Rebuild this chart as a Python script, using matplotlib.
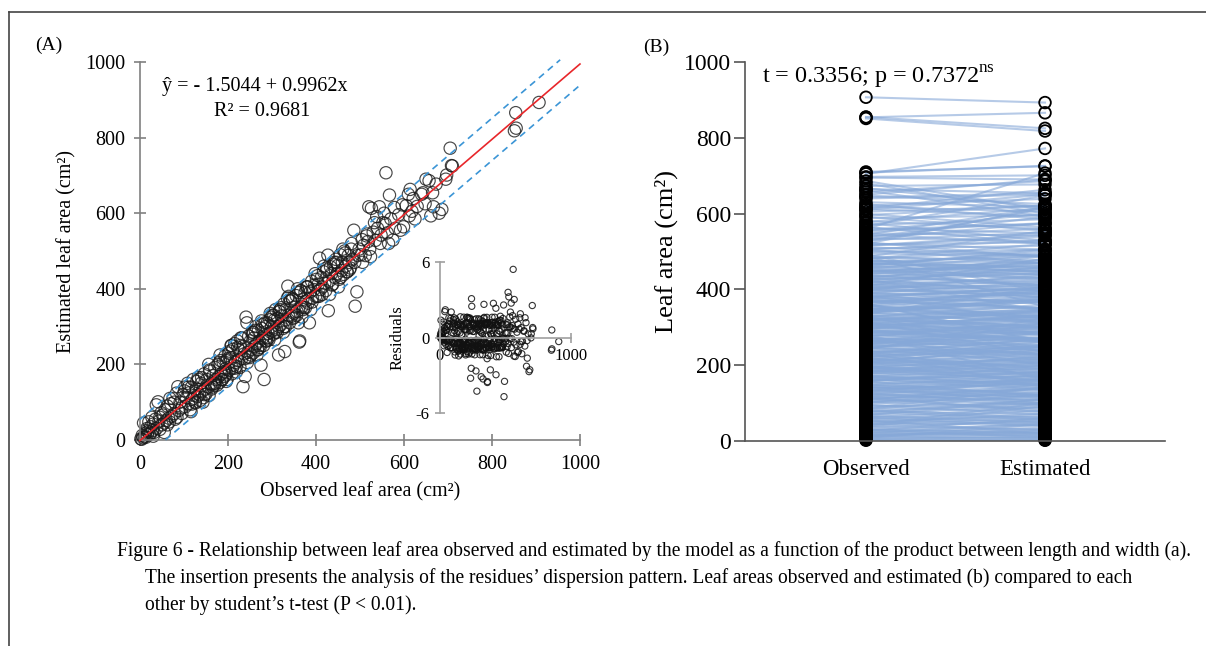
import numpy as np
import matplotlib
matplotlib.use("Agg")
import matplotlib.pyplot as plt
from matplotlib.lines import Line2D

plt.rcParams["font.family"] = ["Liberation Serif", "DejaVu Serif"]
plt.rcParams["mathtext.fontset"] = "custom"
plt.rcParams["mathtext.rm"] = "Liberation Serif"
plt.rcParams["axes.unicode_minus"] = False

# ---- data (observed, estimated leaf area, cm2) ----
obs_0_100 = [2, 4, 5, 7, 8, 10, 12, 13, 15, 17,
             18, 20, 22, 24, 25, 27, 29, 30, 32, 35,
             37, 38, 41, 43, 45, 48, 50, 52, 55, 57,
             60, 62, 65, 67, 70, 72, 75, 78, 80, 83,
             86, 88, 91, 95, 98]
est_0_100 = [3, 2, 12, 6, 45, 9, 18, 7, 30, 14,
             22, 48, 15, 35, 19, 60, 25, 42, 20, 55,
             93, 31, 101, 50, 28, 72, 40, 66, 45, 80,
             52, 90, 58, 48, 96, 63, 110, 70, 55, 124,
             141, 78, 100, 85, 120]

obs_100_200 = [101, 103, 105, 108, 110, 112, 114, 117, 119, 121,
               123, 126, 128, 130, 132, 135, 137, 139, 141, 144,
               146, 148, 150, 152, 155, 157, 159, 161, 163, 166,
               168, 170, 172, 175, 177, 179, 181, 183, 185, 187,
               189, 190, 192, 193, 194, 195, 196, 197, 198, 199]
est_100_200 = [130, 88, 112, 150, 95, 125, 80, 140, 108, 160,
               118, 98, 135, 115, 165, 120, 105, 150, 128, 112,
               175, 135, 122, 160, 140, 118, 182, 148, 135, 170,
               150, 192, 160, 145, 200, 168, 152, 210, 175, 160,
               205, 180, 168, 222, 188, 172, 210, 178, 160, 215]

obs_200_300 = [201, 203, 205, 207, 209, 211, 213, 215, 217, 219,
               221, 223, 225, 227, 229, 231, 234, 235, 237, 239,
               241, 243, 245, 247, 249, 251, 253, 255, 257, 259,
               261, 263, 265, 267, 269, 271, 273, 275, 277, 279,
               281, 282, 285, 287, 289, 291, 293, 295, 297, 299]
est_200_300 = [230, 185, 215, 250, 175, 240, 198, 255, 205, 180,
               262, 210, 238, 192, 270, 215, 141, 248, 228, 168,
               325, 310, 232, 275, 218, 262, 240, 285, 230, 270,
               248, 300, 255, 238, 290, 262, 245, 198, 295, 270,
               250, 160, 300, 270, 310, 282, 265, 318, 285, 300]

obs_300_400 = [301, 303, 306, 308, 311, 313, 315, 318, 320, 322,
               325, 327, 329, 332, 335, 337, 340, 342, 345, 347,
               350, 352, 355, 357, 360, 362, 363, 365, 368, 370,
               372, 375, 377, 380, 382, 385, 387, 390, 392, 395,
               397, 399, 330, 336, 316]
est_300_400 = [330, 280, 318, 345, 292, 322, 225, 340, 305, 328,
               295, 360, 234, 318, 375, 330, 310, 368, 328, 372,
               335, 352, 382, 340, 310, 259, 262, 395, 352, 372,
               350, 390, 368, 405, 362, 310, 392, 420, 375, 398,
               410, 380, 345, 407, 300]

obs_400_500 = [401, 403, 405, 408, 410, 412, 415, 417, 420, 422,
               425, 427, 428, 430, 433, 435, 438, 440, 443, 445,
               448, 450, 452, 455, 458, 460, 463, 465, 468, 470,
               473, 475, 478, 480, 483, 486, 489, 493, 495, 498]
est_400_500 = [425, 380, 412, 481, 398, 430, 405, 445, 415, 395,
               450, 489, 342, 420, 458, 440, 412, 465, 430, 478,
               440, 462, 425, 490, 448, 470, 438, 500, 460, 445,
               488, 470, 455, 505, 478, 555, 354, 392, 488, 505]

obs_500_600 = [502, 505, 508, 512, 515, 518, 520, 522, 526, 530,
               535, 538, 540, 544, 548, 552, 557, 559, 562, 567,
               570, 575, 580, 588, 596]
est_500_600 = [490, 530, 515, 488, 540, 525, 617, 505, 613, 550,
               528, 591, 560, 617, 542, 575, 573, 707, 548, 648,
               585, 529, 560, 596, 622]

obs_600_up = [599, 605, 612, 614, 618, 621, 630, 640, 643, 648,
              657, 661, 665, 667, 673, 680, 686, 697, 695, 705,
              708, 710, 851, 855, 854, 907]
est_600_up = [564, 620, 593, 663, 605, 639, 618, 650, 654, 625,
              686, 593, 654, 617, 677, 600, 610, 701, 690, 772,
              726, 725, 818, 825, 866, 893]

# denser part of the cloud
obs_core = [45, 62, 78, 95, 118, 133, 147, 158, 171, 186,
            204, 216, 228, 238, 252, 262, 272, 284, 292, 304,
            312, 321, 331, 341, 351, 361, 371, 381, 391, 404,
            414, 424, 436, 446, 456, 466, 476, 488, 15, 30,
            110, 125, 140, 165, 180, 210, 222, 246, 258, 268,
            278, 288, 298, 308, 318, 328, 346, 356, 366, 376]
est_core = [60, 40, 100, 70, 95, 160, 120, 185, 150, 160,
            235, 190, 250, 215, 225, 290, 250, 310, 270, 330,
            285, 350, 300, 368, 325, 390, 345, 405, 365, 435,
            385, 455, 410, 470, 430, 495, 450, 470, 25, 10,
            140, 100, 165, 140, 205, 190, 245, 220, 285, 240,
            305, 262, 325, 285, 345, 300, 375, 330, 395, 350]

# outer edges of the band
obs_edge = [55, 68, 84, 102, 116, 129, 143, 156, 169, 182,
            196, 208, 219, 232, 244, 256, 266, 276, 286, 296,
            306, 316, 326, 338, 348, 358, 368, 378, 388, 398,
            407, 418, 431, 441, 451, 461, 471, 481, 506, 516,
            524, 533, 546, 555, 565, 578, 592, 610, 625, 650]
est_edge = [20, 110, 60, 140, 75, 155, 100, 200, 145, 225,
            155, 250, 195, 270, 205, 280, 225, 315, 262, 335,
            265, 340, 285, 380, 322, 400, 325, 405, 345, 440,
            380, 460, 385, 470, 405, 505, 445, 520, 470, 545,
            485, 575, 520, 600, 520, 615, 555, 650, 585, 690]

# regression reported on the chart
b0, b1 = -1.5044, 0.9962
band = 56      # half width of the dashed interval
s_res = 28.0   # residual standard error used for the inset

observed = np.array(obs_0_100 + obs_100_200 + obs_200_300 + obs_300_400
                    + obs_400_500 + obs_500_600 + obs_600_up + obs_core + obs_edge, dtype=float)
estimated = np.array(est_0_100 + est_100_200 + est_200_300 + est_300_400
                     + est_400_500 + est_500_600 + est_600_up + est_core + est_edge, dtype=float)
assert len(observed) == len(estimated)

residuals = (estimated - (b0 + b1 * observed)) / s_res

fig = plt.figure(figsize=(12.06, 6.46), dpi=100)
grey = "#808080"

# ---- (A) scatter ----
ax = fig.add_axes([0.1161, 0.3189, 0.3648, 0.5851])
ax.scatter(observed, estimated, s=78, facecolors="none", edgecolors="#1a1a1a",
           linewidths=0.85, alpha=0.8, clip_on=False, zorder=2)
xl = np.array([0, 1000])
ax.plot(xl, b0 + b1 * xl, color="#e8262a", lw=1.2, zorder=3, clip_on=False)
xu = np.array([0, 955])
ax.plot(xu, b0 + b1 * xu + band, color="#3b95d6", lw=1.2, ls=(0, (4, 3)), zorder=3, clip_on=False)
xd = np.array([58, 1000])
ax.plot(xd, b0 + b1 * xd - band, color="#3b95d6", lw=1.2, ls=(0, (4, 3)), zorder=3, clip_on=False)
ax.set_xlim(0, 1000)
ax.set_ylim(0, 1000)
ax.set_xticks(range(0, 1001, 200))
ax.set_yticks(range(0, 1001, 200))
for s in ["top", "right"]:
    ax.spines[s].set_visible(False)
for s in ["left", "bottom"]:
    ax.spines[s].set_color(grey)
    ax.spines[s].set_linewidth(1.2)
ax.tick_params(direction="inout", length=9, width=1.2, color=grey, labelsize=14.5, pad=6)
ax.set_xlabel("Observed leaf area (cm²)", fontsize=14.5, labelpad=6)
ax.set_ylabel("Estimated leaf area (cm²)", fontsize=14.5, labelpad=6)
ax.text(50, 935, "ŷ = - 1.5044 + 0.9962x", fontsize=14.5, va="center")
ax.text(168, 868, "R² = 0.9681", fontsize=14.5, va="center")
fig.text(35 / 1206, 1 - 45 / 646, "(A)", fontsize=14, va="center")

# ---- inset: residuals ----
axi = fig.add_axes([0.3648, 0.3607, 0.1086, 0.2337])
axi.patch.set_alpha(0)
axi.scatter(observed, residuals, s=20, facecolors="none", edgecolors="#111111",
            linewidths=0.8, alpha=0.85, clip_on=False)
axi.set_xlim(0, 1000)
axi.set_ylim(-6, 6)
axi.spines["left"].set_position(("data", 0))
axi.spines["bottom"].set_position(("data", 0))
for s in ["top", "right"]:
    axi.spines[s].set_visible(False)
for s in ["left", "bottom"]:
    axi.spines[s].set_color("#a0a0a0")
    axi.spines[s].set_linewidth(1.2)
axi.set_xticks([0, 1000])
axi.set_yticks([-6, 0, 6])
axi.tick_params(direction="inout", length=7, width=1.2, color="#a0a0a0", labelsize=12, pad=4)
axi.set_ylabel("Residuals", fontsize=12, labelpad=2)
axi.yaxis.set_label_coords(-0.26, 0.5)

# ---- (B) paired observed / estimated ----
bx = fig.add_axes([0.6177, 0.3173, 0.3483, 0.5867])
bx.plot([1, 2], np.vstack([observed, estimated]), color="#86a8d8", lw=1.5, alpha=0.6, zorder=1)
bx.scatter(np.ones(len(observed)), observed, s=70, facecolors="none", edgecolors="black",
           linewidths=1.3, zorder=2, clip_on=False)
bx.scatter(np.full(len(estimated), 2), estimated, s=70, facecolors="none", edgecolors="black",
           linewidths=1.3, zorder=2, clip_on=False)
bx.set_xlim(0.324, 2.67)
bx.set_ylim(0, 1000)
bx.set_xticks([1, 2])
bx.set_xticklabels(["Observed", "Estimated"])
bx.set_yticks(range(0, 1001, 200))
for s in ["top", "right"]:
    bx.spines[s].set_visible(False)
for s in ["left", "bottom"]:
    bx.spines[s].set_color("#555555")
    bx.spines[s].set_linewidth(1.2)
bx.tick_params(axis="y", direction="out", length=8, width=1.2, color="#555555", labelsize=17, pad=2)
bx.tick_params(axis="x", length=0, labelsize=16.5, pad=13)
bx.set_ylabel("Leaf area (cm²)", fontsize=19, labelpad=4)
bx.text(0.42, 960, r"t = 0.3356; p = 0.7372$^{\mathrm{ns}}$", fontsize=17.5, va="center")
fig.text(643 / 1206, 1 - 47 / 646, "(B)", fontsize=14, va="center")

# ---- frame + caption ----
fig.add_artist(Line2D([9 / 1206, 1], [1 - 12 / 646, 1 - 12 / 646], color="#444444", lw=1.2))
fig.add_artist(Line2D([9 / 1206, 9 / 1206], [0, 1 - 12 / 646], color="#444444", lw=1.2))
cap = ["Figure 6 - Relationship between leaf area observed and estimated by the model as a function of the product between length and width (a).",
       "The insertion presents the analysis of the residues’ dispersion pattern. Leaf areas observed and estimated (b) compared to each",
       "other by student’s t-test (P < 0.01)."]
fig.text(117 / 1206, 1 - 551 / 646, cap[0], fontsize=14.05, va="center")
fig.text(145 / 1206, 1 - 578 / 646, cap[1], fontsize=14.05, va="center")
fig.text(145 / 1206, 1 - 605 / 646, cap[2], fontsize=14.05, va="center")

fig.savefig("out.png", dpi=100)
